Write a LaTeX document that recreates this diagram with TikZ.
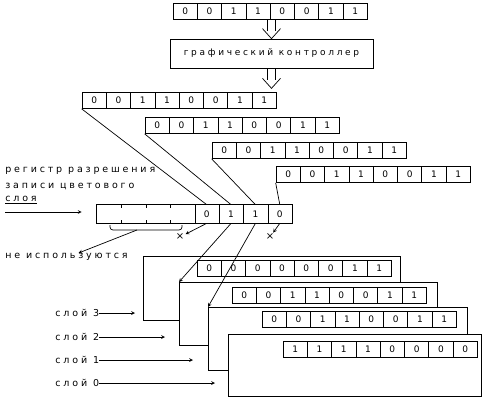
\documentclass[tikz,border=0pt]{standalone}
\usepackage{fontspec}
\setmainfont{DejaVu Sans}
\newfontfamily\pixfont[LetterSpace=30]{DejaVu Sans}
\usetikzlibrary{arrows, calc, positioning}

\tikzset{
  bitcell/.style={draw, minimum width=24.3pt, minimum height=16pt, inner sep=0pt, font=\fontsize{9}{9}\selectfont},
  encell/.style={minimum width=24.375pt, minimum height=18pt, inner sep=0pt, font=\fontsize{9}{9}\selectfont},
  layerbox/.style={draw, fill=white, anchor=north west, inner sep=0pt},
  lbl/.style={anchor=west, inner sep=0pt, font=\pixfont\fontsize{9.5}{9.5}\selectfont},
}

% register of 8 bits: name, left x, centre y, bits
\newcommand{\bitreg}[4]{%
  \foreach \b [count=\i] in {#4}
    \node[bitcell] (#1-\i) at ({#2+(\i-0.5)*24.3},#3) {\b};
}
% hollow double arrow pointing down
\newcommand{\dnarrow}[2]{%
  \draw ($(#1)+(-4,0)$) -- ($(#2)+(-4,-8)$);
  \draw ($(#1)+(4,0)$) -- ($(#2)+(4,-8)$);
  \draw ($(#2)+(-9,-10)$) -- (#2) -- ($(#2)+(9,-10)$);
}

\begin{document}
\begin{tikzpicture}[x=1pt, y=-1pt, line width=0.7pt, >=stealth]
\useasboundingbox (0,0) rectangle (491,400);

	% input and controller
	\bitreg{top}{173}{11}{0,0,1,1,0,0,1,1}
	\node[draw, minimum width=203pt, minimum height=29pt, inner sep=0pt, font=\pixfont\fontsize{9}{9}\selectfont] (ctrl) at (271.5,53.5) {графический контроллер};
	\dnarrow{top-4.south east -| ctrl.north}{ctrl.north}
	\coordinate (rain) at ($(ctrl.south)+(0,20)$);
	\dnarrow{ctrl.south}{rain}

	% copies for each layer
	\bitreg{ra}{82}{100.5}{0,0,1,1,0,0,1,1}
	\bitreg{rb}{145}{125.5}{0,0,1,1,0,0,1,1}
	\bitreg{rc}{212}{150.5}{0,0,1,1,0,0,1,1}
	\bitreg{rd}{276}{174.5}{0,0,1,1,0,0,1,1}

	% enable register
	\foreach \b [count=\i] in {{},{},{},{},0,1,1,0}
		\node[encell] (en-\i) at ({97+(\i-0.5)*24.375},214) {\b};
	\draw[line width=1.5pt] (en-1.north west) rectangle (en-8.south east);
	\foreach \i in {4,...,7}
		\draw (en-\i.north east) -- (en-\i.south east);
	\foreach \i in {1,2,3} {
		\draw (en-\i.north east) -- ++(0,3);
		\draw (en-\i.south east) -- ++(0,-3);
	}

	\draw (ra-1.south west) -- (en-5.north);
	\draw (rb-1.south west) -- (en-6.north);
	\draw (rc-1.south west) -- (en-7.north);
	\draw (rd-1.south west) -- (en-8.north);

	\node[lbl] (enlab1) at (5,171) {регистр разрешения};
	\node[lbl] (enlab2) at (5,186) {записи цветового};
	\node[lbl] (enlab3) at (5,200) {\underline{слоя}};
	\coordinate (enin) at (5,212);
	\draw[->, shorten >=15pt] (enin) -- (enin -| en-1.west);

	% unused bits
	\node[inner sep=1pt, font=\fontsize{10}{10}\selectfont] (xa) at (180,237) {×};
	\node[inner sep=1pt, font=\fontsize{10}{10}\selectfont] (xb) at (270,237) {×};
	\draw[->] (en-5.south) -- (xa);
	\draw[->] (en-8.south) -- (xb);
	\draw[rounded corners=3pt] (110,225) |- (146,230) -| (182,225);
	\coordinate (brc) at (137,230);
	\node[lbl] (unused) at (5,257) {не используются};
	\draw[->] (brc) -- ([xshift=12pt]unused.north);

	% colour layers
	\node[layerbox, minimum width=257pt, minimum height=64pt] (lay3) at (143,256) {};
	\bitreg{bits3}{197}{268.5}{0,0,0,0,0,0,1,1}
	\node[layerbox, minimum width=258pt, minimum height=63pt] (lay2) at (179,282) {};
	\bitreg{bits2}{232}{295}{0,0,1,1,0,0,1,1}
	\node[layerbox, minimum width=259pt, minimum height=63pt] (lay1) at (208,307) {};
	\bitreg{bits1}{262}{319}{0,0,1,1,0,0,1,1}
	\node[layerbox, minimum width=253pt, minimum height=62pt] (lay0) at (228,334) {};
	\bitreg{bits0}{283}{349.5}{1,1,1,1,0,0,0,0}

	\draw[->] (en-6.south) -- (lay2.north west);
	\draw[->] (en-7.south) -- (lay1.north west);

	\node[lbl] (lab3) at (55,313) {слой 3};
	\node[lbl] (lab2) at (55,337) {слой 2};
	\node[lbl] (lab1) at (55,360) {слой 1};
	\node[lbl] (lab0) at (55,383) {слой 0};
	\draw[->, shorten >=8pt] (lab3) -- (lab3 -| lay3.west);
	\draw[->, shorten >=14pt] (lab2) -- (lab2 -| lay2.west);
	\draw[->, shorten >=15pt] (lab1) -- (lab1 -| lay1.west);
	\draw[->, shorten >=13pt] (lab0) -- (lab0 -| lay0.west);
\end{tikzpicture}
\end{document}
